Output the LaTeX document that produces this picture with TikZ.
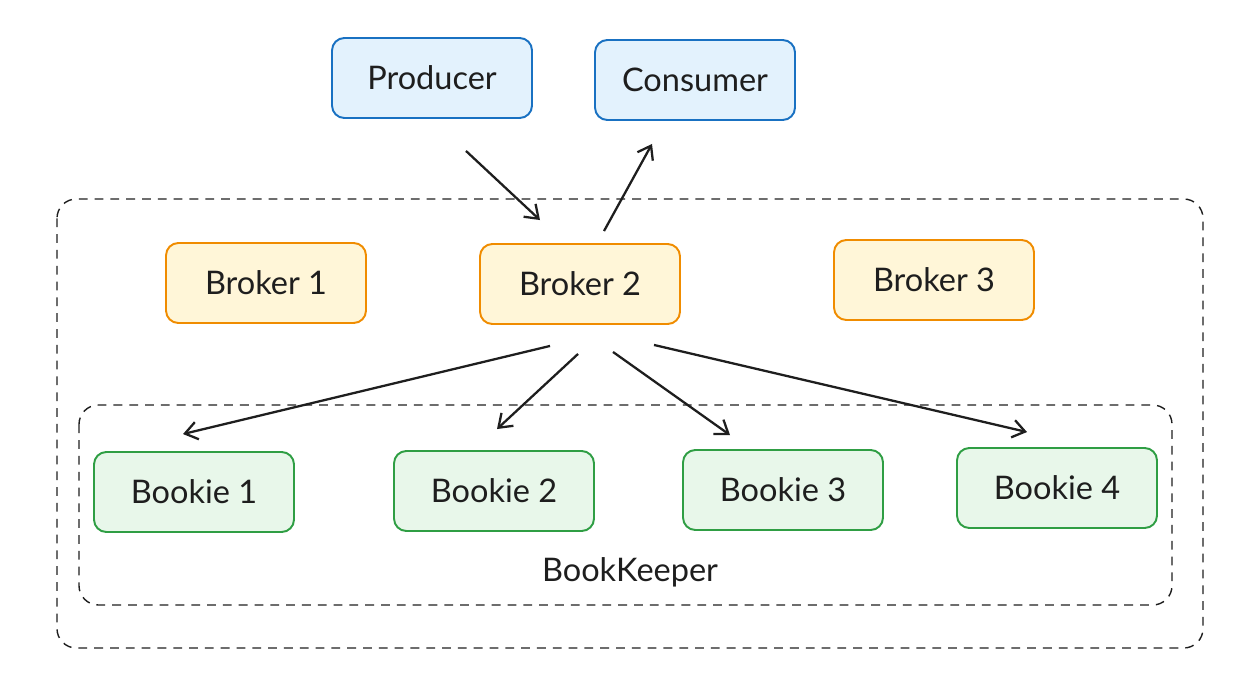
\documentclass[tikz,border=0pt]{standalone}
\usepackage{fontspec}
\setmainfont{Lato}
\usepackage{tikz}
\usetikzlibrary{arrows.meta,calc}
\definecolor{ink}{HTML}{1E1E1E}
\definecolor{blueline}{HTML}{1971C2}
\definecolor{bluefill}{HTML}{E3F2FD}
\definecolor{orangeline}{HTML}{F08C00}
\definecolor{orangefill}{HTML}{FFF6D8}
\definecolor{greenline}{HTML}{2F9E44}
\definecolor{greenfill}{HTML}{E8F7EA}
\tikzset{
    box/.style={rounded corners=7pt, line width=1.1pt, minimum width=4cm,
                minimum height=1.6cm, text=ink, font=\fontsize{18.5}{22}\selectfont},
    client/.style={box, draw=blueline, fill=bluefill},
    broker/.style={box, draw=orangeline, fill=orangefill},
    bookie/.style={box, draw=greenline, fill=greenfill},
    group/.style={draw=ink, dashed, line width=0.8pt, rounded corners=11pt,
                  dash pattern=on 5pt off 4pt},
    arr/.style={-{Straight Barb[length=7pt,width=10pt]}, line width=1.3pt, draw=ink},
}

\begin{document}
\begin{tikzpicture}[x=0.02cm, y=-0.02cm]
    \useasboundingbox (0,0) rectangle (1244,676);

    % Groups
    \draw[group] (57,199) rectangle (1203,648);
    \draw[group] (79,405) rectangle (1172,605);
    \node[text=ink, font=\fontsize{18.5}{22}\selectfont] (bkp) at (630,572) {BookKeeper};

    % Clients
    \node[client] (prod) at (432,78) {Producer};
    \node[client] (cons) at (695,80) {Consumer};

    % Brokers
    \node[broker] (b1) at (266,283) {Broker 1};
    \node[broker] (b2) at (580,284) {Broker 2};
    \node[broker] (b3) at (934,280) {Broker 3};

    % Bookies
    \node[bookie] (bk1) at (194,492) {Bookie 1};
    \node[bookie] (bk2) at (494,491) {Bookie 2};
    \node[bookie] (bk3) at (783,490) {Bookie 3};
    \node[bookie] (bk4) at (1057,488) {Bookie 4};

    % Client arrows
    \draw[arr] ($(prod.south)+(34,32)$) -- ($(b2.north)+(-40,-23)$);
    \draw[arr] ($(b2.north)+(24,-12)$) -- ($(cons.south)+(-43,23)$);

    % Broker to bookies
    \foreach \n/\sx/\sy/\ex/\ey in {bk1/-30/21/-11/-17, bk2/-2/29/3/-21,
                                    bk3/33/27/-53/-14, bk4/74/20/-30/-15}
        \draw[arr] ($(b2.south)+(\sx,\sy)$) -- ($(\n.north)+(\ex,\ey)$);
\end{tikzpicture}
\end{document}
